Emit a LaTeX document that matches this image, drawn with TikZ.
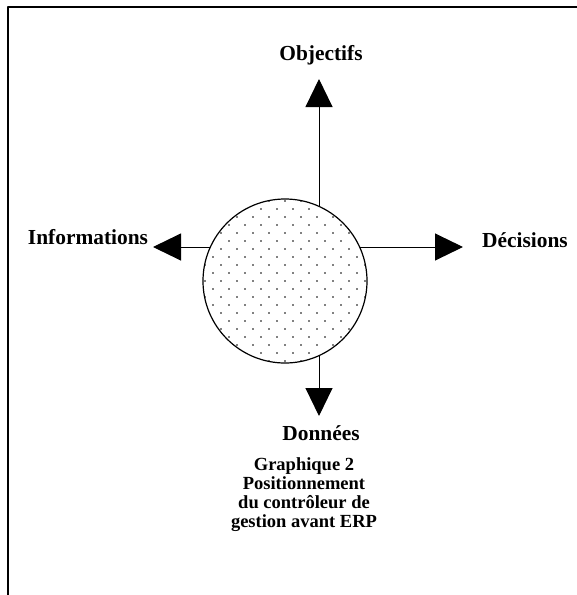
\documentclass[tikz,border=0pt]{standalone}
\usepackage{fontspec}
\setmainfont{Liberation Serif}
\usetikzlibrary{arrows.meta}

\begin{document}
\begin{tikzpicture}[x=1pt, y=-1pt, font=\fontsize{21.4}{22}\selectfont\bfseries, line join=round, >={Triangle[length=28pt,width=27pt]}]
	% Cadre de la figure
	\useasboundingbox (0,0) rectangle (577,595);
	\draw[line width=2pt] (8,595)--(8,7)--(577,7);
	
	% Point de croisement des flèches et centre du cercle
	\coordinate (O) at (319,247);
	\coordinate (C) at (285,281);
	\def\r{82}
	
	% Pointes des flèches
	\coordinate (hO) at (319,79);
	\coordinate (hD) at (463,247);
	\coordinate (hI) at (153,247);
	\coordinate (hB) at (319,416);
	
	% Les quatre flèches
	\draw[line width=1pt,->] (O)--(hO);
	\draw[line width=1pt,->] (O)--(hD);
	\draw[line width=1pt,->] (O)--(hI);
	\draw[line width=1pt,->] (O)--(hB);
	
	% Cercle pointillé
	\fill[white] (C) circle (\r);
	\begin{scope}
		\clip (C) circle (\r);
		\foreach \j in {-11,...,11}
			\foreach \i in {-6,...,6}
				\fill ({285+16*\i+8*mod(abs(\j),2)},{281+8*\j}) circle (0.85pt);
	\end{scope}
	\draw[line width=1.2pt] (C) circle (\r);
	
	% Étiquettes
	\node (obj) at (321,55) {Objectifs};
	\node (dec) at (525,240) {Décisions};
	\node (info) at (88,237) {Informations};
	\node (don) at (321,433) {Données};
	
	% Titre du graphique
	\node[align=center, anchor=north, inner sep=0pt, font=\fontsize{18.5}{19}\selectfont\bfseries] (titre) at (304,457) {Graphique 2\\Positionnement\\du contrôleur de\\gestion avant ERP};
\end{tikzpicture}
\end{document}
